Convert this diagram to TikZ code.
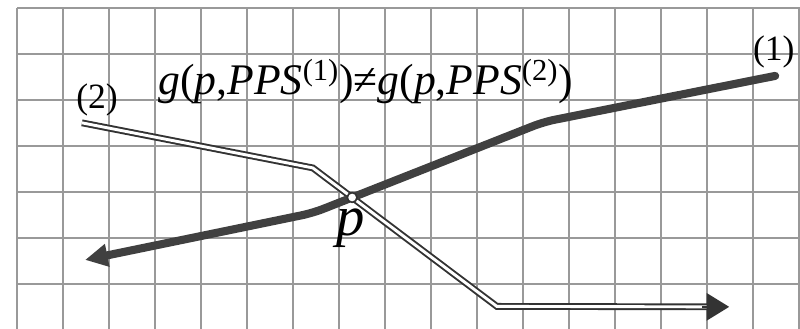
\documentclass[tikz,border=0pt]{standalone}
\usepackage{fontspec}
\setmainfont{Liberation Serif}
\usetikzlibrary{arrows.meta}

\begin{document}
\begin{tikzpicture}[every node/.style={font=\fontsize{22}{26}\selectfont},
	gridline/.style={gray!80, line width=0.9pt},
	pathone/.style={black!75, line width=5pt, rounded corners=7pt, line cap=round},
	pathtwo/.style={draw=black!80, double=white, line width=1.2pt, double distance=1.8pt},
	crosspt/.style={circle, draw=black!80, fill=white, line width=1pt, inner sep=0pt, minimum size=6pt}]
	\useasboundingbox (-0.37,0.04) rectangle (17.02,7.17);
	\clip (-0.37,0.04) rectangle (17.02,7.17);
	\draw[gridline] (0,-0.5) grid (17.5,7);
	% path (1)
	\coordinate (a1) at (16.48,5.52);
	\coordinate (a2) at (11.45,4.52);
	\coordinate (a3) at (6.43,2.54);
	\coordinate (a4) at (1.48,1.52);
	% path (2)
	\coordinate (b1) at (1.41,4.50);
	\coordinate (b2) at (6.43,3.52);
	\coordinate (b3) at (10.43,0.51);
	\coordinate (b4) at (15.05,0.50);
	\coordinate (b5) at (15.48,0.50);
	\draw[pathtwo] (b1) -- (b2) -- (b3) -- (b4);
	\draw[black!80, line width=1pt, -{Triangle[length=14pt, width=17pt]}] (14.9,0.5) -- (b5);
	\draw[pathone, -{Triangle[length=14pt, width=13.5pt]}] (a1) -- (a2) -- (a3) -- (a4);
	\node[crosspt] (p) at (intersection of a2--a3 and b2--b3) {};
	\node[font=\fontsize{35}{40}\selectfont\itshape] (plbl) at (7.26,2.22) {p};
	\node (lblone) at (16.45,6.03) {(1)};
	\node (lbltwo) at (1.74,5.0) {(2)};
	\node[font=\fontsize{27}{31}\selectfont] (ineq) at (7.58,5.40)
		{\textit{g}(\textit{p},\textit{PPS}\textsuperscript{(1)})≠\textit{g}(\textit{p},\textit{PPS}\textsuperscript{(2)})};
\end{tikzpicture}
\end{document}
